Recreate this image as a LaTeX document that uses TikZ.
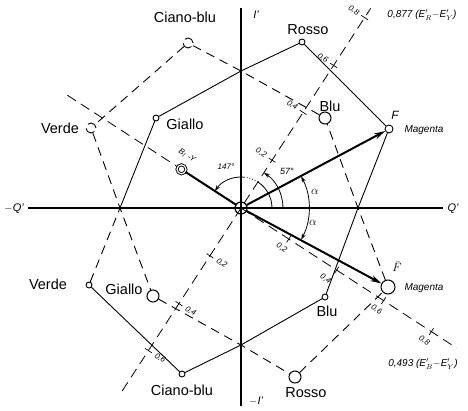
\documentclass[tikz,border=0pt]{standalone}
\usepackage{fontspec}
\setmainfont{Liberation Sans}
\usetikzlibrary{arrows.meta,calc}
\begin{document}
\begin{tikzpicture}[x=1pt,y=-1pt,
  lbl/.style={font=\fontsize{14.5}{16}\selectfont, inner sep=0pt},
  ilbl/.style={font=\itshape\fontsize{10}{12}\selectfont, inner sep=0pt},
  tlbl/.style={font=\itshape\fontsize{8}{9}\selectfont, inner sep=0pt, rotate=-33},
  sv/.style={circle,draw,fill=white,inner sep=0pt,minimum size=6pt,line width=0.9pt},
  bv/.style={circle,draw,fill=white,inner sep=0pt,minimum size=12pt,line width=1pt},
  brk/.style={circle,draw,fill=white,inner sep=0pt,minimum size=10pt,line width=0.9pt,dash pattern=on 11pt off 4.7pt},
  hexs/.style={line width=0.9pt},
  hexd/.style={line width=0.9pt,dash pattern=on 9pt off 6pt},
  axd/.style={line width=0.8pt,dash pattern=on 10pt off 6pt},
  ax/.style={line width=1.2pt},
  vec/.style={line width=2pt,-{Stealth[length=11pt,width=6pt]}},
  tk/.style={line width=0.7pt},
  arcl/.style={line width=0.8pt}
]
\useasboundingbox (0,0) rectangle (468,411);
% axes
\coordinate (O) at (241,208);
\coordinate (Qm) at (28,208); \coordinate (Qp) at (443,208);
\coordinate (It) at (241,8); \coordinate (Ib) at (241,406);
\coordinate (T) at (241,71); \coordinate (Bm) at (241,345);
\coordinate (L) at (120,208); \coordinate (R) at (358,208);
\draw[ax] (Qm) -- (Qp);
\draw[ax] (It) -- (Ib);
\coordinate (RYt) at ($(O)+(-57:238)$);
\coordinate (RYb) at ($(O)+(123:218)$);
\coordinate (BYu) at ($(O)+(-147:207)$);
\coordinate (BYd) at ($(O)+(33:257)$);
\draw[axd] (RYb) -- (RYt);
\draw[axd] (BYu) -- (BYd);
% vertices
\node[sv,minimum size=8pt] (F) at (389,129) {};
\node[sv] (Ru) at (302,42) {};
\node[sv] (Gu) at (156,118) {};
\node[sv] (Vl) at (89,285) {};
\node[sv] (Cl) at (182,374) {};
\node[sv] (Bl) at (325,297) {};
\node[bv,minimum size=14pt] (Fb) at (388,287) {};
\node[bv] (Rl) at (295,377) {};
\node[bv] (Gl) at (153,296) {};
\node[brk] (Vu) at (91,128) {};
\node[brk] (Cu) at (188,43) {};
\node[bv] (Bu) at (325,118) {};
% solid hexagon
\draw[hexs] (Gu) -- (T) -- (Ru) -- (F) -- (R) -- (Bl) -- (Bm) -- (Cl) -- (Vl);
\draw[hexs] (L) -- (Gu);
\draw[hexd] (Vl) -- (L);
% dashed hexagon
\draw[hexd] (Vu) -- (L) -- (Gl);
\draw[hexd] (Gl) -- (Bm) -- (Rl) -- (Fb) -- (R) -- (Bu) -- (T) -- (Cu) -- (Vu);
% origin, burst, vectors
\node[circle,draw,line width=1.2pt,inner sep=0pt,minimum size=12pt] (On) at (O) {};
\node[circle,draw,double,double distance=1.2pt,fill=white,line width=0.9pt,inner sep=0pt,minimum size=9pt] (Bc) at ($(O)+(-147:71)$) {};
\draw[line width=2pt] (On) -- (Bc);
\draw[vec] (On) -- (F);
\draw[vec] (On) -- (Fb);
% angle arcs
\draw[arcl] ([shift={(0:31)}]O) arc[start angle=0,end angle=-57,radius=31];
\draw[arcl,dotted] ([shift={(-57:31)}]O) arc[start angle=-57,end angle=-85,radius=31];
\draw[arcl,-{Stealth[length=6pt,width=4pt]}] ([shift={(-85:31)}]O) arc[start angle=-85,end angle=-147,radius=31];
\draw[arcl,-{Stealth[length=6pt,width=4pt]}] ([shift={(0:42)}]O) arc[start angle=0,end angle=-57,radius=42];
\draw[arcl,{Stealth[length=6pt,width=4pt]}-{Stealth[length=6pt,width=4pt]}] ([shift={(27.7:68)}]O) arc[start angle=27.7,end angle=-27.7,radius=68];
% ticks on R-Y axis (upper)
\foreach \d/\t [count=\i] in {57/{0,2},114/{0,4},170/{0,6},227/{0,8}}{
  \draw[tk] ($(O)+(-57:\d)+(33:4)$) -- ($(O)+(-57:\d)+(-147:4)$);
  \node[tlbl] (tu\i) at ($(O)+(-57:\d)+(-147:13)$) {\t};
}
% ticks on R-Y axis (lower)
\foreach \d/\t [count=\i] in {57/{0,2},114/{0,4},170/{0,6}}{
  \draw[tk] ($(O)+(123:\d)+(33:4)$) -- ($(O)+(123:\d)+(-147:4)$);
  \node[tlbl] (tl\i) at ($(O)+(123:\d)+(33:14)$) {\t};
}
% ticks on B-Y axis (lower right)
\foreach \d/\t/\o [count=\i] in {57/{0,2}/0,114/{0,4}/-4,170/{0,6}/0,227/{0,8}/0}{
  \draw[tk] ($(O)+(33:\d)+(123:4)$) -- ($(O)+(33:\d)+(-57:4)$);
  \node[tlbl] (tb\i) at ($(O)+(33:\d)+(123:13)+(\o,-2)$) {\t};
}
% labels
\node[lbl] (lCu) at (185,17) {Ciano-blu};
\node[lbl] (lCl) at (182,390) {Ciano-blu};
\node[lbl] (lRu) at (308,30) {Rosso};
\node[lbl] (lRl) at (306,393) {Rosso};
\node[lbl] (lVu) at (60,128) {Verde};
\node[lbl] (lVl) at (48,284) {Verde};
\node[lbl] (lGu) at (185,124) {Giallo};
\node[lbl] (lGl) at (124,289) {Giallo};
\node[lbl] (lBu) at (330,106) {Blu};
\node[lbl] (lBl) at (327,311) {Blu};
\node[ilbl,font=\itshape\fontsize{12}{14}\selectfont] (lF) at (395,115) {F};
\node[ilbl,font=\fontsize{12}{14}\selectfont] (lFb) at (397,267) {$\bar{F}$};
\node[ilbl] (lM1) at (424,130) {Magenta};
\node[ilbl] (lM2) at (424,288) {Magenta};
\node[ilbl,font=\itshape\fontsize{11}{13}\selectfont] (lI) at (256,15) {I'};
\node[ilbl,font=\itshape\fontsize{11}{13}\selectfont] (lmI) at (256,401) {$-$I'};
\node[ilbl,font=\itshape\fontsize{11}{13}\selectfont] (lQ) at (453,209) {Q'};
\node[ilbl,font=\itshape\fontsize{11}{13}\selectfont] (lmQ) at (14,209) {$-$Q'};
\node[ilbl,font=\itshape\fontsize{8}{9}\selectfont] (l147) at (226,167) {147°};
\node[ilbl,font=\itshape\fontsize{9}{10}\selectfont] (l57) at (287,171) {57°};
\node[ilbl,font=\fontsize{12}{14}\selectfont] (la1) at (315,192) {$\alpha$};
\node[ilbl,font=\fontsize{12}{14}\selectfont] (la2) at (313,223) {$\alpha$};
\node[ilbl] (lRY) at (422,15) {0,877 (E$'_R-$E$'_Y$)};
\node[ilbl] (lBY) at (423,364) {0,493 (E$'_B-$E$'_Y$)};
\node[tlbl] (lBc) at (187,156) {B$_l$ -Y};
\end{tikzpicture}
\end{document}
